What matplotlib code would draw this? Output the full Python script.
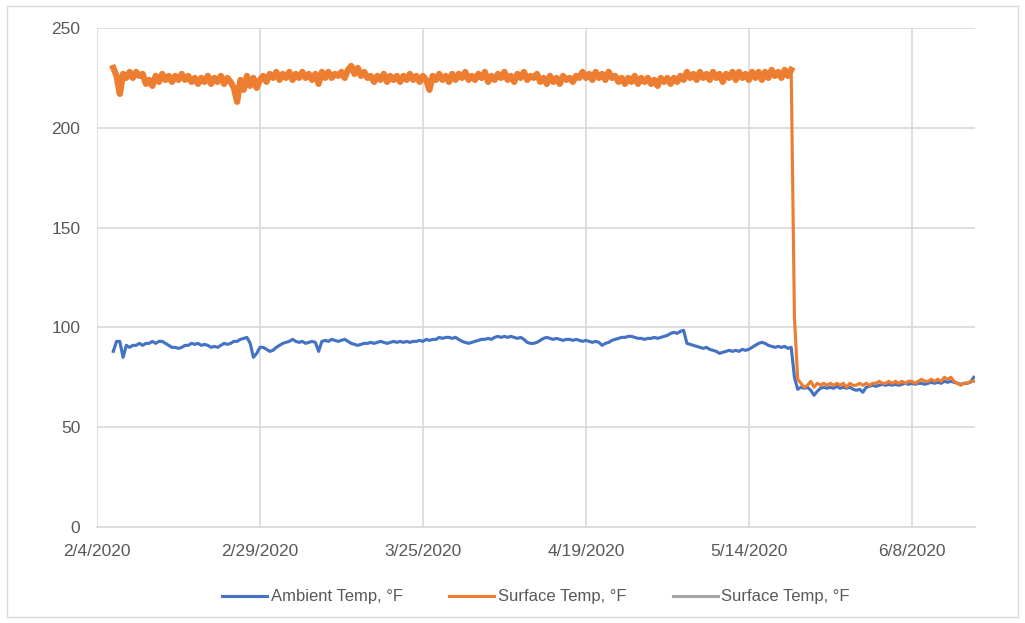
import matplotlib

matplotlib.use("Agg")
import matplotlib.pyplot as plt
import pandas as pd
from matplotlib.patches import Rectangle

plt.rcParams["font.family"] = ["Liberation Sans", "DejaVu Sans"]

# readings every 12 hours, starting 2/6/2020 12:00
ambient = [
    88, 93, 93, 85, 91, 90, 91, 91, 92, 91,
    92, 92, 93, 92, 93, 93, 92, 91, 90, 90,
    89.5, 90, 91, 91, 92, 91.5, 92, 91, 91.5, 91,
    90, 90.5, 90, 91, 92, 91.5, 92, 93, 93, 94,
    94.5, 95, 92, 85, 87, 90, 90, 89, 88, 88.5,
    90, 91, 92, 92.5, 93, 94, 93, 92.5, 93, 92,
    92.5, 93, 92.5, 88, 93, 93.5, 93, 94, 93.5, 93,
    93.5, 94, 93, 92, 91.5, 91, 91.5, 92, 92, 92.5,
    92, 92.5, 93, 92.5, 92, 92.5, 93, 92.5, 93, 92.5,
    93, 92.5, 93, 93, 93.5, 93, 94, 93.5, 94, 94,
    95, 94.5, 95, 95, 94.5, 95, 94, 93, 92.5, 92,
    92.5, 93, 93.5, 94, 94, 94.5, 94, 95, 95.5, 95,
    95.5, 95, 95.5, 95, 94.5, 95, 94, 92.5, 92, 92,
    92.5, 93.5, 94.5, 95, 94.5, 94, 94.5, 94, 93.5, 94,
    94, 93.5, 94, 93.5, 93, 93.5, 93, 92.5, 93, 92.5,
    91, 92, 92.5, 93.5, 94, 94.5, 95, 95, 95.5, 95.5,
    95, 94.5, 94.5, 94, 94.5, 94.5, 95, 94.5, 95, 95.5,
    96, 97, 97.5, 97, 98, 98.5, 92, 91.5, 91, 90.5,
    90, 89.5, 90, 89, 88.5, 88, 87, 87.5, 88, 88.5,
    88, 88.5, 88, 89, 88.5, 89, 90, 91, 92, 92.5,
    92, 91, 90.5, 90, 90.5, 90, 90.5, 89.5, 90, 75,
    69, 70, 69.5, 70, 68.5, 66, 68, 69.5, 70, 69.5,
    70, 69.5, 70.5, 69.5, 70, 69.5, 70, 69, 68.5, 69,
    67.5, 70, 70.5, 71, 70.5, 71, 71.5, 71, 71.5, 71,
    71.5, 71, 71.5, 72, 71.5, 72, 71.5, 72, 72, 71.5,
    72, 72.5, 72, 72.5, 72, 73, 72.5, 73, 72.5, 72,
    71.5, 72, 72, 72.5, 75,
]

surface = [
    230, 226, 217, 227, 225, 228, 225, 228, 226, 227,
    222, 224, 221, 226, 223, 227, 224, 226, 223, 226,
    224, 227, 224, 226, 223, 225, 222, 225, 223, 226,
    222, 225, 223, 226, 222, 225, 223, 220, 213, 224,
    219, 226, 221, 225, 220, 224, 226, 223, 227, 225,
    228, 224, 227, 225, 228, 224, 227, 225, 228, 225,
    227, 224, 227, 222, 228, 225, 228, 225, 227, 226,
    228, 225, 229, 231, 227, 230, 226, 228, 225, 226,
    223, 226, 224, 227, 223, 226, 224, 226, 223, 226,
    224, 227, 224, 226, 223, 226, 224, 219, 226, 224,
    227, 224, 226, 223, 227, 224, 227, 225, 228, 224,
    226, 224, 227, 225, 228, 223, 226, 224, 227, 225,
    228, 224, 226, 223, 227, 225, 228, 224, 226, 225,
    227, 223, 225, 222, 226, 223, 225, 222, 226, 224,
    225, 223, 226, 225, 228, 225, 227, 224, 228, 225,
    227, 224, 228, 225, 226, 223, 225, 222, 225, 223,
    226, 222, 225, 223, 225, 222, 224, 221, 225, 223,
    225, 222, 225, 223, 226, 224, 228, 225, 227, 224,
    228, 225, 227, 224, 228, 225, 227, 223, 227, 225,
    228, 224, 228, 225, 227, 224, 228, 225, 228, 224,
    228, 225, 229, 226, 228, 225, 229, 226, 229, 105,
    74, 72, 70, 71, 73, 70, 72, 71, 72, 71,
    72, 71, 72, 71, 72, 70, 72, 71, 71, 72,
    71, 72, 71, 72, 72, 73, 72, 72, 73, 72,
    73, 72, 73, 72, 73, 73, 72, 73, 74, 73,
    73, 74, 73, 74, 73, 75, 74, 75, 73, 72,
    71, 72, 72, 73, 73,
]

times = pd.date_range("2020-02-06 12:00", periods=len(ambient), freq="12h")
tick_dates = pd.date_range("2020-02-04", periods=6, freq="25D")
y_ticks = [0, 50, 100, 150, 200, 250]
drop_idx = 208  # last reading before the heater shut off

fig = plt.figure(figsize=(10.25, 6.23), dpi=100)
fig.patches.append(
    Rectangle((7 / 1025, 6 / 623), 1011 / 1025, 611 / 623, transform=fig.transFigure,
              fill=False, edgecolor="#d9d9d9", linewidth=1.0)
)
ax = fig.add_axes([97 / 1025, 1 - 527 / 623, 878 / 1025, 499 / 623])

ax.plot(times, ambient, color="#4472C4", linewidth=2.25, label="Ambient Temp, °F")
# noisy hot stretch drawn heavier so it reads as the dense band of the logger trace
ax.plot(times[:drop_idx + 1], surface[:drop_idx + 1], color="#ED7D31", linewidth=4.5,
        solid_joinstyle="round")
ax.plot(times[drop_idx:], surface[drop_idx:], color="#ED7D31", linewidth=2.25,
        label="Surface Temp, °F")
ax.plot([], [], color="#A5A5A5", linewidth=2.25, label="Surface Temp, °F")

ax.set_xlim(pd.Timestamp("2020-02-04"), pd.Timestamp("2020-02-04") + pd.Timedelta(days=134.7))
ax.set_ylim(0, 250)
ax.set_yticks(y_ticks)
ax.set_xticks(tick_dates)
ax.set_xticklabels([f"{d.month}/{d.day}/{d.year}" for d in tick_dates])

ax.grid(True, color="#d9d9d9", linewidth=1.2)
ax.set_axisbelow(True)
for side in ["top", "right", "left"]:
    ax.spines[side].set_visible(False)
ax.spines["bottom"].set_color("#d9d9d9")
ax.spines["bottom"].set_linewidth(1.2)
ax.tick_params(axis="both", length=0, labelsize=12.5, labelcolor="#595959")
ax.tick_params(axis="y", pad=12)
ax.tick_params(axis="x", pad=12)

leg = ax.legend(loc="center", bbox_to_anchor=(0.5, -0.14), ncol=3, frameon=False,
                fontsize=12, handlelength=2.7, handletextpad=0.2, columnspacing=2.8)
for t in leg.get_texts():
    t.set_color("#595959")

fig.savefig("out.png", dpi=100)
